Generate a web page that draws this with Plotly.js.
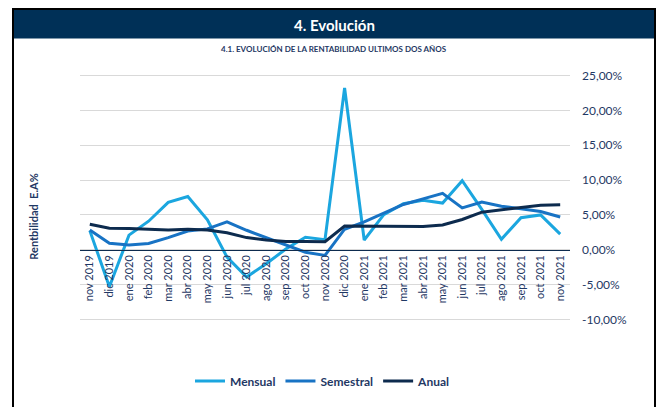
<!DOCTYPE html>
<html>
<head>
<meta charset="utf-8">
<script src="https://cdn.plot.ly/plotly-3.0.1.min.js"></script>
<style>
html,body{margin:0;padding:0;background:#fff;}
#chart{width:659px;height:407px;}
</style>
</head>
<body>
<div id="chart"></div>
<script>
const categories = ["nov 2019","dic 2019","ene 2020","feb 2020","mar 2020","abr 2020","may 2020","jun 2020","jul 2020","ago 2020","sep 2020","oct 2020","nov 2020","dic 2020","ene 2021","feb 2021","mar 2021","abr 2021","may 2021","jun 2021","jul 2021","ago 2021","sep 2021","oct 2021","nov 2021"];
const mensual   = [2.75,-5.3,2.1,4.1,6.8,7.65,4.3,-1.05,-3.9,-2.0,0.1,1.8,1.45,23.2,1.4,5.05,6.6,7.1,6.7,9.9,5.8,1.5,4.6,5.0,2.25];
const semestral = [2.85,0.95,0.7,0.9,1.75,2.7,3.0,4.0,2.8,1.75,0.6,-0.35,-0.8,2.95,4.0,5.3,6.5,7.3,8.1,6.0,6.85,6.25,5.9,5.5,4.7];
const anual     = [3.65,3.1,3.05,2.9,2.85,2.95,2.85,2.45,1.75,1.4,1.2,1.2,1.15,3.4,3.4,3.4,3.4,3.35,3.55,4.35,5.4,5.75,6.15,6.4,6.45];
const seriesNames = ["Mensual","Semestral","Anual"];
const yTicks = [-10,-5,0,5,10,15,20,25];
const yTickText = yTicks.map(v => v.toFixed(2).replace('.', ',') + '%');

// layout geometry (pixels -> paper)
const L = 80, R = 570, T = 72, B = 327;
const px = x => (x - L) / (R - L);
const py = y => (B - y) / (B - T);

const navy = '#1F3864';
const colors = ['#1BA6DF', '#1873C4', '#0D2B4E'];
const data = [mensual, semestral, anual].map((v, i) => ({
  type: 'scatter', mode: 'lines', name: seriesNames[i],
  x: categories, y: v,
  line: {color: colors[i], width: 3}
}));

const yLo = -10.5, yHi = 25.5;
const layout = {
  width: 659, height: 407,
  margin: {l: L, r: 659 - R, t: T, b: 407 - B, pad: 0},
  paper_bgcolor: '#ffffff', plot_bgcolor: '#ffffff',
  font: {family: 'Lato, "Open Sans", sans-serif', color: navy},
  showlegend: true,
  legend: {orientation: 'h', x: px(323), xanchor: 'center', y: py(386), yanchor: 'middle',
           font: {size: 12, color: navy, family: 'Lato, sans-serif', weight: 'bold'},
           itemwidth: 30, tracegroupgap: 0},
  xaxis: {
    type: 'category', range: [-0.5, categories.length - 0.5],
    anchor: 'free', position: (0 - yLo) / (yHi - yLo),
    showline: true, linecolor: '#0D2B4E', linewidth: 1,
    showgrid: false, zeroline: false, ticks: '',
    tickangle: -90, tickfont: {size: 11, color: navy}
  },
  yaxis: {
    side: 'right', range: [yLo, yHi], tickmode: 'array', tickvals: yTicks, ticktext: yTickText,
    showgrid: true, gridcolor: '#D9D9D9', gridwidth: 1,
    zeroline: false, showline: false, ticks: '',
    ticklabelstandoff: 11,
    tickfont: {size: 12, color: navy}
  },
  shapes: [
    {type: 'rect', xref: 'paper', yref: 'paper', x0: px(14), x1: px(654), y0: py(9), y1: py(38),
     fillcolor: '#003057', line: {width: 0}, layer: 'below'},
    {type: 'line', xref: 'paper', yref: 'paper', x0: px(13), x1: px(13), y0: py(8), y1: py(420),
     line: {color: '#000000', width: 2}},
    {type: 'line', xref: 'paper', yref: 'paper', x0: px(655), x1: px(655), y0: py(8), y1: py(420),
     line: {color: '#000000', width: 2}},
    {type: 'line', xref: 'paper', yref: 'paper', x0: px(12), x1: px(656), y0: py(8), y1: py(8),
     line: {color: '#000000', width: 2}}
  ],
  annotations: [
    {text: '4. Evolución', xref: 'paper', yref: 'paper', x: px(334), y: py(24), xanchor: 'center', yanchor: 'middle',
     showarrow: false, font: {size: 15, color: '#ffffff', family: 'Lato, sans-serif', weight: 'bold'}},
    {text: '4.1. EVOLUCIÓN DE LA RENTABILIDAD ULTIMOS DOS AÑOS', xref: 'paper', yref: 'paper', x: px(334), y: py(49),
     xanchor: 'center', yanchor: 'middle', showarrow: false,
     font: {size: 8, color: navy, family: 'Lato, sans-serif', weight: 'bold'}},
    {text: 'Rentbilidad  E.A%', xref: 'paper', yref: 'paper', x: px(34), y: py(219), xanchor: 'center', yanchor: 'middle',
     textangle: -90, showarrow: false, font: {size: 11, color: navy, family: 'Lato, sans-serif', weight: 'bold'}}
  ]
};

Plotly.newPlot('chart', data, layout, {displayModeBar: false, staticPlot: true});
</script>
</body>
</html>
